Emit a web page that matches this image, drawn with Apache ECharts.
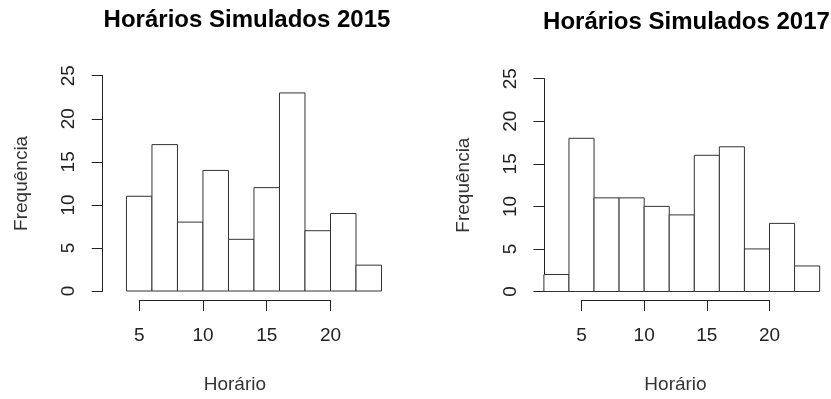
<!DOCTYPE html>
<html>
<head>
<meta charset="utf-8">
<script src="https://cdn.jsdelivr.net/npm/echarts@6/dist/echarts.min.js"></script>
<style>
  html, body { margin: 0; padding: 0; background: #fff; }
  #chart { width: 831px; height: 399px; }
</style>
</head>
<body>
<div id="chart"></div>
<script>
// Histogram bin edges and counts for each year
const breaks2015 = [4, 6, 8, 10, 12, 14, 16, 18, 20, 22, 24];
const counts2015 = [11, 17, 8, 14, 6, 12, 23, 7, 9, 3];
const breaks2017 = [2, 4, 6, 8, 10, 12, 14, 16, 18, 20, 22, 24];
const counts2017 = [2, 18, 11, 11, 10, 9, 16, 17, 5, 8, 3];

const titles = ['Horários Simulados 2015', 'Horários Simulados 2017'];
const xTitle = 'Horário';
const yTitle = 'Frequência';
const xTicks = [5, 20, 5];   // min, max, step
const yTicks = [0, 25, 5];

const FONT = 'Liberation Sans, Arial, sans-serif';
const INK = '#222';

function bins(breaks, counts) {
  return counts.map((c, i) => [breaks[i], breaks[i + 1], c]);
}

function renderBin(params, api) {
  const p0 = api.coord([api.value(0), 0]);
  const p1 = api.coord([api.value(1), api.value(2)]);
  return {
    type: 'rect',
    shape: { x: p0[0], y: p1[1], width: p1[0] - p0[0], height: p0[1] - p1[1] },
    style: { fill: '#fff', stroke: '#333', lineWidth: 1 }
  };
}

const grids = [
  { left: 139.2, width: 191.3, top: 75.7, height: 215.3 },
  { left: 581.5, width: 188, top: 78.7, height: 213 }
];
const xOffsets = [9, 8.5];
const yOffsets = [36.5, 37];

function xAxisFor(i) {
  return {
    gridIndex: i, type: 'value', min: xTicks[0], max: xTicks[1], interval: xTicks[2],
    offset: xOffsets[i],
    axisLine: { show: true, onZero: false, lineStyle: { color: INK, width: 1 } },
    axisTick: { show: true, inside: false, length: 11, lineStyle: { color: INK, width: 1 } },
    axisLabel: { margin: 26, fontSize: 19, color: INK, fontFamily: FONT },
    splitLine: { show: false },
    name: xTitle, nameLocation: 'middle', nameGap: 75,
    nameTextStyle: { fontSize: 19, color: '#333', fontFamily: FONT }
  };
}
function yAxisFor(i) {
  return {
    gridIndex: i, type: 'value', min: yTicks[0], max: yTicks[1], interval: yTicks[2],
    offset: yOffsets[i],
    axisLine: { show: true, onZero: false, lineStyle: { color: INK, width: 1 } },
    axisTick: { show: true, inside: false, length: 11, lineStyle: { color: INK, width: 1 } },
    axisLabel: { margin: 24, rotate: 90, fontSize: 19, color: INK, fontFamily: FONT },
    splitLine: { show: false },
    name: yTitle, nameLocation: 'middle', nameGap: 71,
    nameTextStyle: { fontSize: 19, color: '#333', fontFamily: FONT }
  };
}

const chart = echarts.init(document.getElementById('chart'), null, { renderer: 'canvas' });
chart.setOption({
  backgroundColor: '#fff',
  animation: false,
  title: [
    { text: titles[0], left: 247, top: 8, padding: 0, textAlign: 'center',
      textStyle: { fontSize: 24, fontWeight: 'bold', color: '#000', fontFamily: FONT } },
    { text: titles[1], left: 686.5, top: 10, padding: 0, textAlign: 'center',
      textStyle: { fontSize: 24, fontWeight: 'bold', color: '#000', fontFamily: FONT } }
  ],
  grid: grids,
  xAxis: [xAxisFor(0), xAxisFor(1)],
  yAxis: [yAxisFor(0), yAxisFor(1)],
  series: [
    { type: 'custom', xAxisIndex: 0, yAxisIndex: 0, clip: false,
      renderItem: renderBin, encode: { x: [0, 1], y: 2 },
      data: bins(breaks2015, counts2015) },
    { type: 'custom', xAxisIndex: 1, yAxisIndex: 1, clip: false,
      renderItem: renderBin, encode: { x: [0, 1], y: 2 },
      data: bins(breaks2017, counts2017) }
  ]
});
</script>
</body>
</html>
